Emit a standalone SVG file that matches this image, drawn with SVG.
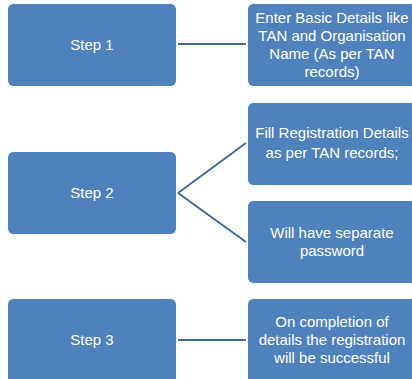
<svg xmlns="http://www.w3.org/2000/svg" width="412" height="379" viewBox="0 0 412 379">
  <style>
    .box { fill: #4F81BD; stroke: #FFFFFF; stroke-width: 1; }
    .lbl { fill: #FFFFFF; font-family: "Liberation Sans", Arial, sans-serif; font-size: 15px; text-anchor: middle; }
    .conn { stroke: #3E6C9E; stroke-width: 2; fill: none; }
  </style>
  <rect width="412" height="379" fill="#FFFFFF"/>

  <g id="connectors">
    <line class="conn" x1="178" y1="44" x2="246" y2="44"/>
    <line class="conn" x1="178" y1="193" x2="246" y2="143"/>
    <line class="conn" x1="178" y1="193" x2="246" y2="242"/>
    <line class="conn" x1="178" y1="340" x2="246" y2="340"/>
  </g>

  <g id="step1">
    <rect class="box" x="7.5" y="3.5" width="169" height="83" rx="6"/>
    <text class="lbl" x="92" y="50">Step 1</text>
  </g>
  <g id="detail1">
    <rect class="box" x="247.5" y="3.5" width="170" height="83" rx="6"/>
    <text class="lbl" x="332" y="23">Enter Basic Details like</text>
    <text class="lbl" x="332" y="41">TAN and Organisation</text>
    <text class="lbl" x="332" y="59">Name (As per TAN</text>
    <text class="lbl" x="332" y="77">records)</text>
  </g>

  <g id="step2">
    <rect class="box" x="7.5" y="151.5" width="169" height="83" rx="6"/>
    <text class="lbl" x="92" y="198">Step 2</text>
  </g>
  <g id="detail2a">
    <rect class="box" x="247.5" y="102.5" width="170" height="83" rx="6"/>
    <text class="lbl" x="332" y="138">Fill Registration Details</text>
    <text class="lbl" x="332" y="158">as per TAN records;</text>
  </g>
  <g id="detail2b">
    <rect class="box" x="247.5" y="200.5" width="170" height="83" rx="6"/>
    <text class="lbl" x="332" y="238">Will have separate</text>
    <text class="lbl" x="332" y="256">password</text>
  </g>

  <g id="step3">
    <rect class="box" x="7.5" y="298.5" width="169" height="90" rx="6"/>
    <text class="lbl" x="92" y="345">Step 3</text>
  </g>
  <g id="detail3">
    <rect class="box" x="247.5" y="298.5" width="170" height="90" rx="6"/>
    <text class="lbl" x="332" y="327">On completion of</text>
    <text class="lbl" x="332" y="345">details the registration</text>
    <text class="lbl" x="332" y="363">will be successful</text>
  </g>
</svg>
